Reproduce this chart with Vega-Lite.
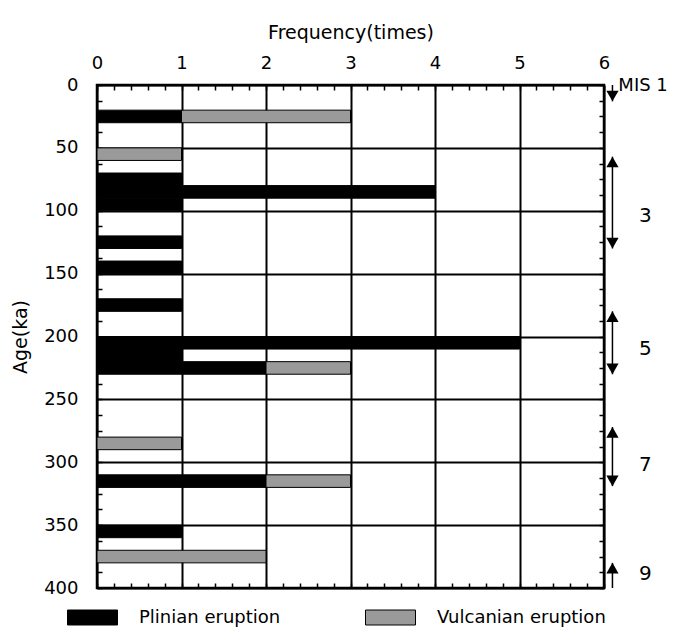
{
  "$schema": "https://vega.github.io/schema/vega-lite/v6.json",
  "width": 507,
  "height": 503,
  "autosize": {"type": "none"},
  "padding": {"left": 97, "top": 85, "right": 69, "bottom": 46},
  "background": "white",
  "config": {
    "view": {"stroke": "black", "strokeWidth": 2.5},
    "font": "DejaVu Sans",
    "axis": {
      "domain": false,
      "labelFont": "DejaVu Sans",
      "labelFontSize": 18,
      "labelColor": "black",
      "titleFont": "DejaVu Sans",
      "titleFontSize": 19,
      "titleFontWeight": "normal",
      "titleColor": "black",
      "tickColor": "black",
      "tickWidth": 1.5,
      "gridColor": "black",
      "gridWidth": 2,
      "zindex": 1,
      "labelOverlap": false,
      "labelFlush": false
    }
  },
  "datasets": {
    "eruptions": [
      {"start": 20, "end": 30, "type": "Plinian eruption", "count": 1},
      {"start": 20, "end": 30, "type": "Vulcanian eruption", "count": 2},
      {"start": 50, "end": 60, "type": "Vulcanian eruption", "count": 1},
      {"start": 70, "end": 80, "type": "Plinian eruption", "count": 1},
      {"start": 80, "end": 90, "type": "Plinian eruption", "count": 4},
      {"start": 90, "end": 100, "type": "Plinian eruption", "count": 1},
      {"start": 120, "end": 130, "type": "Plinian eruption", "count": 1},
      {"start": 140, "end": 150, "type": "Plinian eruption", "count": 1},
      {"start": 170, "end": 180, "type": "Plinian eruption", "count": 1},
      {"start": 200, "end": 210, "type": "Plinian eruption", "count": 5},
      {"start": 210, "end": 220, "type": "Plinian eruption", "count": 1},
      {"start": 220, "end": 230, "type": "Plinian eruption", "count": 2},
      {"start": 220, "end": 230, "type": "Vulcanian eruption", "count": 1},
      {"start": 280, "end": 290, "type": "Vulcanian eruption", "count": 1},
      {"start": 310, "end": 320, "type": "Plinian eruption", "count": 2},
      {"start": 310, "end": 320, "type": "Vulcanian eruption", "count": 1},
      {"start": 350, "end": 360, "type": "Plinian eruption", "count": 1},
      {"start": 370, "end": 380, "type": "Vulcanian eruption", "count": 2}
    ],
    "mis": [
      {"stage": "1", "top": 0, "bottom": 13},
      {"stage": "3", "top": 57, "bottom": 130},
      {"stage": "5", "top": 180, "bottom": 230},
      {"stage": "7", "top": 272, "bottom": 319},
      {"stage": "9", "top": 380, "bottom": 400}
    ],
    "heads": [
      {"age": 13, "dir": "down"},
      {"age": 57, "dir": "up"},
      {"age": 130, "dir": "down"},
      {"age": 180, "dir": "up"},
      {"age": 230, "dir": "down"},
      {"age": 272, "dir": "up"},
      {"age": 319, "dir": "down"},
      {"age": 380, "dir": "up"}
    ],
    "labels": [
      {"label": "MIS 1", "age": 1},
      {"label": "3", "age": 104},
      {"label": "5", "age": 210},
      {"label": "7", "age": 302},
      {"label": "9", "age": 389}
    ]
  },
  "resolve": {"axis": {"x": "independent", "y": "independent"}},
  "layer": [
    {
      "data": {"name": "eruptions"},
      "transform": [
        {"stack": "count", "groupby": ["start"], "sort": [{"field": "type", "order": "ascending"}], "as": ["x0", "x1"]}
      ],
      "mark": {"type": "rect", "stroke": "black", "strokeWidth": 1},
      "encoding": {
        "x": {
          "field": "x0", "type": "quantitative",
          "scale": {"domain": [0, 6], "nice": false, "zero": false},
          "axis": {
            "orient": "top", "title": "Frequency(times)",
            "values": [0,0.2,0.4,0.6,0.8,1,1.2,1.4,1.6,1.8,2,2.2,2.4,2.6,2.8,3,3.2,3.4,3.6,3.8,4,4.2,4.4,4.6,4.8,5,5.2,5.4,5.6,5.8,6],
            "labelExpr": "datum.value % 1 === 0 ? '' + datum.value : ''",
            "gridOpacity": {"condition": {"test": "datum.value % 1 === 0", "value": 1}, "value": 0},
            "tickSize": -5, "labelPadding": 18, "titlePadding": 12
          }
        },
        "x2": {"field": "x1"},
        "y": {
          "field": "start", "type": "quantitative",
          "scale": {"domain": [0, 400], "reverse": true, "nice": false, "zero": false},
          "axis": {
            "orient": "left", "title": "Age(ka)",
            "values": [0,12.5,25,37.5,50,62.5,75,87.5,100,112.5,125,137.5,150,162.5,175,187.5,200,212.5,225,237.5,250,262.5,275,287.5,300,312.5,325,337.5,350,362.5,375,387.5,400],
            "labelExpr": "datum.value % 50 === 0 ? '' + datum.value : ''",
            "gridOpacity": {"condition": {"test": "datum.value % 50 === 0", "value": 1}, "value": 0},
            "tickSize": -5, "labelPadding": 24, "titlePadding": 13
          }
        },
        "y2": {"field": "end"},
        "fill": {
          "field": "type", "type": "nominal",
          "scale": {"domain": ["Plinian eruption", "Vulcanian eruption"], "range": ["black", "#9a9a9a"]},
          "legend": {
            "orient": "none", "legendX": -30, "legendY": 507,
            "direction": "horizontal", "title": null,
            "symbolType": "M-1,-0.3H1V0.3H-1Z", "symbolSize": 2500,
            "symbolStrokeColor": "black", "symbolStrokeWidth": 1,
            "labelFont": "DejaVu Sans", "labelFontSize": 18, "labelColor": "black",
            "labelOffset": 21, "columnPadding": 82, "labelLimit": 300
          }
        }
      }
    },
    {
      "data": {"name": "mis"},
      "mark": {"type": "rule", "stroke": "black", "strokeWidth": 1.5},
      "encoding": {
        "x": {
          "datum": 6.1, "type": "quantitative",
          "scale": {"domain": [0, 6], "nice": false, "zero": false},
          "axis": {
            "orient": "bottom", "title": null,
            "values": [0,0.2,0.4,0.6,0.8,1,1.2,1.4,1.6,1.8,2,2.2,2.4,2.6,2.8,3,3.2,3.4,3.6,3.8,4,4.2,4.4,4.6,4.8,5,5.2,5.4,5.6,5.8,6],
            "labels": false, "grid": false, "tickSize": -5
          }
        },
        "y": {
          "field": "top", "type": "quantitative",
          "scale": {"domain": [0, 400], "reverse": true, "nice": false, "zero": false},
          "axis": {
            "orient": "right", "title": null,
            "values": [0,12.5,25,37.5,50,62.5,75,87.5,100,112.5,125,137.5,150,162.5,175,187.5,200,212.5,225,237.5,250,262.5,275,287.5,300,312.5,325,337.5,350,362.5,375,387.5,400],
            "labels": false, "grid": false, "tickSize": -5
          }
        },
        "y2": {"field": "bottom"}
      }
    },
    {
      "data": {"name": "heads"},
      "transform": [{"filter": "datum.dir === 'up'"}],
      "mark": {"type": "point", "shape": "triangle-up", "filled": true, "color": "black", "opacity": 1, "size": 150, "yOffset": 5.3},
      "encoding": {
        "x": {"datum": 6.1, "type": "quantitative", "scale": {"domain": [0, 6], "nice": false, "zero": false}, "axis": null},
        "y": {"field": "age", "type": "quantitative", "scale": {"domain": [0, 400], "reverse": true, "nice": false, "zero": false}, "axis": null}
      }
    },
    {
      "data": {"name": "heads"},
      "transform": [{"filter": "datum.dir === 'down'"}],
      "mark": {"type": "point", "shape": "triangle-down", "filled": true, "color": "black", "opacity": 1, "size": 150, "yOffset": -5.3},
      "encoding": {
        "x": {"datum": 6.1, "type": "quantitative", "scale": {"domain": [0, 6], "nice": false, "zero": false}, "axis": null},
        "y": {"field": "age", "type": "quantitative", "scale": {"domain": [0, 400], "reverse": true, "nice": false, "zero": false}, "axis": null}
      }
    },
    {
      "data": {"name": "labels"},
      "transform": [{"filter": "datum.label === 'MIS 1'"}],
      "mark": {"type": "text", "align": "left", "baseline": "middle", "font": "DejaVu Sans", "fontSize": 18, "color": "black"},
      "encoding": {
        "x": {"datum": 6.17, "type": "quantitative", "scale": {"domain": [0, 6], "nice": false, "zero": false}, "axis": null},
        "y": {"field": "age", "type": "quantitative", "scale": {"domain": [0, 400], "reverse": true, "nice": false, "zero": false}, "axis": null},
        "text": {"field": "label"}
      }
    },
    {
      "data": {"name": "labels"},
      "transform": [{"filter": "datum.label !== 'MIS 1'"}],
      "mark": {"type": "text", "align": "center", "baseline": "middle", "font": "DejaVu Sans", "fontSize": 20, "color": "black"},
      "encoding": {
        "x": {"datum": 6.49, "type": "quantitative", "scale": {"domain": [0, 6], "nice": false, "zero": false}, "axis": null},
        "y": {"field": "age", "type": "quantitative", "scale": {"domain": [0, 400], "reverse": true, "nice": false, "zero": false}, "axis": null},
        "text": {"field": "label"}
      }
    }
  ]
}
